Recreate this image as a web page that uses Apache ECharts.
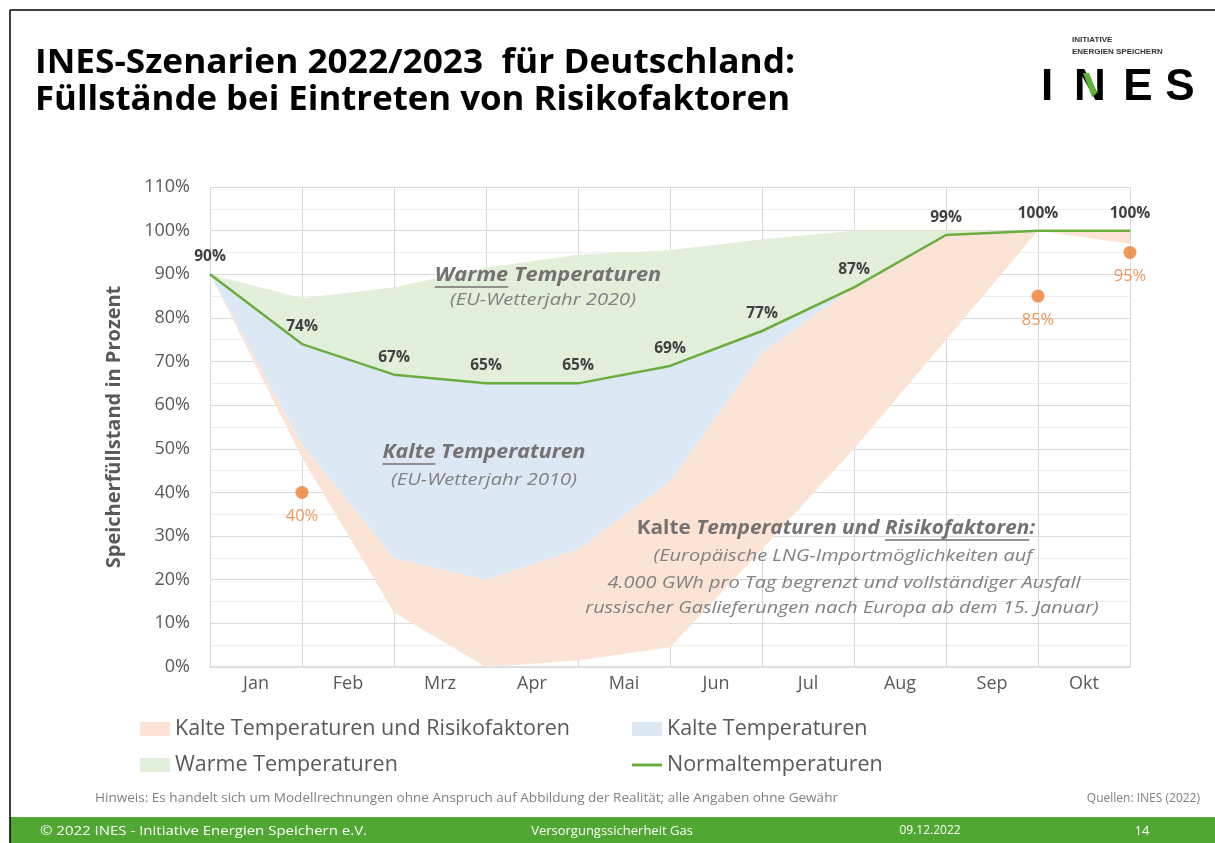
<!DOCTYPE html>
<html>
<head>
  <meta charset="utf-8">
  <title>INES-Szenarien 2022/2023</title>
  <script src="https://cdn.jsdelivr.net/npm/echarts@6/dist/echarts.min.js"></script>
  <style>
    html, body { margin: 0; padding: 0; background: #fff; }
    #chart { width: 1215px; height: 843px; }
  </style>
</head>
<body>
<div id="chart"></div>
<script>
  // Stützpunkte = Monatsanfang (Jan .. Nov), Monatsnamen stehen dazwischen
  var points = ['01.01', '01.02', '01.03', '01.04', '01.05', '01.06', '01.07', '01.08', '01.09', '01.10', '01.11'];
  var months = ['Jan', 'Feb', 'Mrz', 'Apr', 'Mai', 'Jun', 'Jul', 'Aug', 'Sep', 'Okt'];

  // Füllstände in Prozent
  var normal = [90, 74, 67, 65, 65, 69, 77, 87, 99, 100, 100];
  var warm = [90, 84.5, 87, 91.5, 94.5, 95.5, 98, 100, 100, 100, 100];
  var kalt = [90, 51, 25, 20, 27, 42.5, 72, 87, 99, 100, 100];
  var risiko = [90, 48, 12.5, 0, 1.5, 4.5, 27, 50, 75, 100, 97];
  var risikoPunkte = [null, 40, null, null, null, null, null, null, null, 85, 95];

  var yMin = 0, yMax = 110, yStep = 10;

  var FONT = '"Open Sans", "Liberation Sans", sans-serif';
  var LOGO_FONT = '"Liberation Sans", Arial, sans-serif';
  var GRAU = '#595959';

  // Bänder für die gestapelten Flächen
  var bandRisiko = kalt.map(function (v, i) { return v - risiko[i]; });
  var bandKalt = normal.map(function (v, i) { return v - kalt[i]; });
  var bandWarm = warm.map(function (v, i) { return v - normal[i]; });

  var ctx = document.createElement('canvas').getContext('2d');
  function textWidth(t, size, bold, italic) {
    ctx.font = (italic ? 'italic ' : '') + (bold ? 'bold ' : '') + size + 'px ' + FONT;
    return ctx.measureText(t).width;
  }

  // Textzeile aus Teilstücken (kursiv / fett / unterstrichen), zentriert auf cx, Breite skaliert mit sx
  function textLine(segs, cx, cy, size, color, sx) {
    sx = sx || 1;
    var total = 0;
    segs.forEach(function (s) { s.w = textWidth(s.t, size, s.b, s.i) * sx; total += s.w; });
    var x = cx - total / 2;
    var out = [];
    segs.forEach(function (s) {
      out.push({
        type: 'text', x: x, y: cy, z: 100, scaleX: sx, silent: true,
        style: {
          text: s.t, fill: color, fontSize: size, fontFamily: FONT,
          fontWeight: s.b ? 'bold' : 'normal', fontStyle: s.i ? 'italic' : 'normal',
          align: 'left', verticalAlign: 'middle'
        }
      });
      if (s.u) {
        out.push({
          type: 'line', z: 100, silent: true,
          shape: { x1: x, y1: cy + size * 0.6, x2: x + s.w, y2: cy + size * 0.6 },
          style: { stroke: color, lineWidth: 1.5 }
        });
      }
      x += s.w;
    });
    return out;
  }

  function fitText(t, x, y, size, width, color, bold) {
    var natural = textWidth(t, size, bold, false);
    return {
      type: 'text', x: x, y: y, z: 100, scaleX: width / natural, silent: true,
      style: { text: t, fill: color, fontSize: size, fontWeight: bold ? 'bold' : 'normal', fontFamily: FONT, align: 'left', verticalAlign: 'middle' }
    };
  }

  function plainText(t, x, y, size, color, align) {
    return {
      type: 'text', x: x, y: y, z: 100, silent: true,
      style: { text: t, fill: color, fontSize: size, fontFamily: FONT, align: align || 'left', verticalAlign: 'middle' }
    };
  }

  var anno = '#767171';
  var annoLight = '#808080';
  var graphics = [];
  // Rahmen
  graphics.push({ type: 'line', z: 100, silent: true, shape: { x1: 10, y1: 10, x2: 1215, y2: 10 }, style: { stroke: '#000', lineWidth: 1.5 } });
  graphics.push({ type: 'line', z: 100, silent: true, shape: { x1: 10, y1: 10, x2: 10, y2: 843 }, style: { stroke: '#000', lineWidth: 1.5 } });
  // Titel
  graphics.push(fitText('INES-Szenarien 2022/2023  für Deutschland:', 35, 63, 34, 760, '#000', true));
  graphics.push(fitText('Füllstände bei Eintreten von Risikofaktoren', 35, 100, 34, 755, '#000', true));
  // Logo
  graphics.push({ type: 'text', x: 1072, y: 40, z: 100, silent: true, style: { text: 'INITIATIVE', fill: '#333', fontSize: 8, fontWeight: 'bold', fontFamily: LOGO_FONT, verticalAlign: 'middle' } });
  graphics.push({ type: 'text', x: 1072, y: 52, z: 100, silent: true, style: { text: 'ENERGIEN SPEICHERN', fill: '#333', fontSize: 8, fontWeight: 'bold', fontFamily: LOGO_FONT, verticalAlign: 'middle' } });
  [['I', 1047], ['N', 1090], ['E', 1138], ['S', 1180]].forEach(function (l) {
    graphics.push({ type: 'text', x: l[1], y: 88, z: 100, silent: true, style: { text: l[0], fill: '#000', fontSize: 44, fontWeight: 'bold', fontFamily: LOGO_FONT, align: 'center', verticalAlign: 'middle' } });
  });
  graphics.push({ type: 'polygon', z: 101, silent: true, shape: { points: [[1083, 73], [1089, 73], [1097, 93], [1092, 97]] }, style: { fill: '#5BB431' } });

  // Beschriftungen im Diagramm
  graphics = graphics.concat(textLine([{ t: 'Warme', i: true, b: true, u: true }, { t: ' Temperaturen', i: true, b: true }], 548, 275, 20, anno, 1.09));
  graphics = graphics.concat(textLine([{ t: '(EU-Wetterjahr 2020)', i: true }], 543, 300, 16.5, annoLight, 1.22));
  graphics = graphics.concat(textLine([{ t: 'Kalte', i: true, b: true, u: true }, { t: ' Temperaturen', i: true, b: true }], 484, 452, 20, anno, 1.07));
  graphics = graphics.concat(textLine([{ t: '(EU-Wetterjahr 2010)', i: true }], 484, 480, 16.5, annoLight, 1.22));
  graphics = graphics.concat(textLine([
    { t: 'Kalte ', b: true }, { t: 'Temperaturen und ', i: true, b: true },
    { t: 'Risikofaktoren', i: true, b: true, u: true }, { t: ':', i: true, b: true }
  ], 836, 528, 20, anno, 1.04));
  graphics = graphics.concat(textLine([{ t: '(Europäische LNG-Importmöglichkeiten auf', i: true }], 843, 556, 16.5, annoLight, 1.21));
  graphics = graphics.concat(textLine([{ t: '4.000 GWh pro Tag begrenzt und vollständiger Ausfall', i: true }], 844, 583, 16.5, annoLight, 1.21));
  graphics = graphics.concat(textLine([{ t: 'russischer Gaslieferungen nach Europa ab dem 15. Januar)', i: true }], 842, 608, 16.5, annoLight, 1.2));

  // Fußzeile
  graphics.push(fitText('Hinweis: Es handelt sich um Modellrechnungen ohne Anspruch auf Abbildung der Realität; alle Angaben ohne Gewähr', 95, 799, 12, 743, '#808080', false));
  graphics.push(plainText('Quellen: INES (2022)', 1200, 799, 12, '#808080', 'right'));
  graphics.push({ type: 'rect', z: 99, silent: true, shape: { x: 10, y: 817, width: 1205, height: 26 }, style: { fill: '#50A832' } });
  graphics.push(fitText('© 2022 INES - Initiative Energien Speichern e.V.', 40, 831, 13, 327, '#fff', false));
  graphics.push(plainText('Versorgungssicherheit Gas', 612, 831, 13, '#fff', 'center'));
  graphics.push(plainText('09.12.2022', 930, 831, 12, '#fff', 'center'));
  graphics.push(plainText('14', 1142, 831, 13, '#fff', 'center'));

  var legendCommon = {
    orient: 'vertical', padding: 0, itemWidth: 30, itemHeight: 14, icon: 'rect',
    selectedMode: false,
    textStyle: { fontSize: 21.5, color: GRAU, fontFamily: FONT }
  };

  var chart = echarts.init(document.getElementById('chart'));
  chart.setOption({
    animation: false,
    backgroundColor: '#fff',
    textStyle: { fontFamily: FONT },
    grid: { left: 210, right: 85, top: 187, bottom: 176 },
    legend: [
      Object.assign({}, legendCommon, { data: ['Kalte Temperaturen und Risikofaktoren'], left: 140, top: 718 }),
      Object.assign({}, legendCommon, { data: ['Warme Temperaturen'], left: 140, top: 754 }),
      Object.assign({}, legendCommon, { data: ['Kalte Temperaturen'], left: 632, top: 718 }),
      Object.assign({}, legendCommon, { data: ['Normaltemperaturen'], left: 632, top: 754, itemHeight: 3 })
    ],
    xAxis: [
      {
        type: 'category', data: points, boundaryGap: false, position: 'bottom',
        axisLabel: { show: false }, axisTick: { show: false }, axisLine: { show: false },
        splitLine: { show: true, lineStyle: { color: '#d9d9d9', width: 1 } }
      },
      {
        type: 'category', data: months, boundaryGap: true, position: 'bottom',
        axisTick: { show: false },
        axisLine: { show: true, lineStyle: { color: '#d9d9d9', width: 1.5 } },
        axisLabel: { fontSize: 18, color: GRAU, margin: 8 },
        splitLine: { show: false }
      }
    ],
    yAxis: {
      type: 'value', min: yMin, max: yMax, interval: yStep,
      name: 'Speicherfüllstand in Prozent', nameLocation: 'middle', nameGap: 86,
      nameTextStyle: { fontSize: 20, fontWeight: 'bold', color: GRAU },
      axisLine: { show: false }, axisTick: { show: false },
      axisLabel: { formatter: '{value}%', fontSize: 18, color: GRAU, margin: 20 },
      splitLine: { lineStyle: { color: '#d9d9d9', width: 1 } },
      minorTick: { show: false, splitNumber: 2 },
      minorSplitLine: { show: true, lineStyle: { color: '#eeeeee', width: 1 } }
    },
    graphic: graphics,
    series: [
      {
        name: 'Basis', type: 'line', stack: 'band', data: risiko, symbol: 'none', silent: true,
        lineStyle: { width: 0, opacity: 0 }
      },
      {
        name: 'Kalte Temperaturen und Risikofaktoren', type: 'line', stack: 'band', data: bandRisiko,
        symbol: 'none', silent: true, color: '#FBE4D6',
        lineStyle: { width: 0 }, areaStyle: { color: '#FBE4D6', opacity: 1 }
      },
      {
        name: 'Kalte Temperaturen', type: 'line', stack: 'band', data: bandKalt,
        symbol: 'none', silent: true, color: '#DDE8F5',
        lineStyle: { width: 0 }, areaStyle: { color: '#DDE8F5', opacity: 1 }
      },
      {
        name: 'Warme Temperaturen', type: 'line', stack: 'band', data: bandWarm,
        symbol: 'none', silent: true, color: '#E2EFDA',
        lineStyle: { width: 0 }, areaStyle: { color: '#E2EFDA', opacity: 1 }
      },
      {
        name: 'Normaltemperaturen', type: 'line', data: normal, z: 5,
        color: '#6BAE3F', symbol: 'circle', symbolSize: 1,
        lineStyle: { color: '#6BAE3F', width: 2.5 },
        label: {
          show: true, position: 'top', distance: 9, formatter: '{c}%',
          fontSize: 15.5, fontWeight: 'bold', color: '#404040'
        }
      },
      {
        name: 'Risikopunkte', type: 'scatter', data: risikoPunkte, z: 6,
        symbolSize: 13, itemStyle: { color: '#ED7D31' },
        label: {
          show: true, position: 'bottom', distance: 9, formatter: '{c}%',
          fontSize: 16.5, color: '#ED7D31'
        }
      }
    ]
  });
</script>
</body>
</html>
